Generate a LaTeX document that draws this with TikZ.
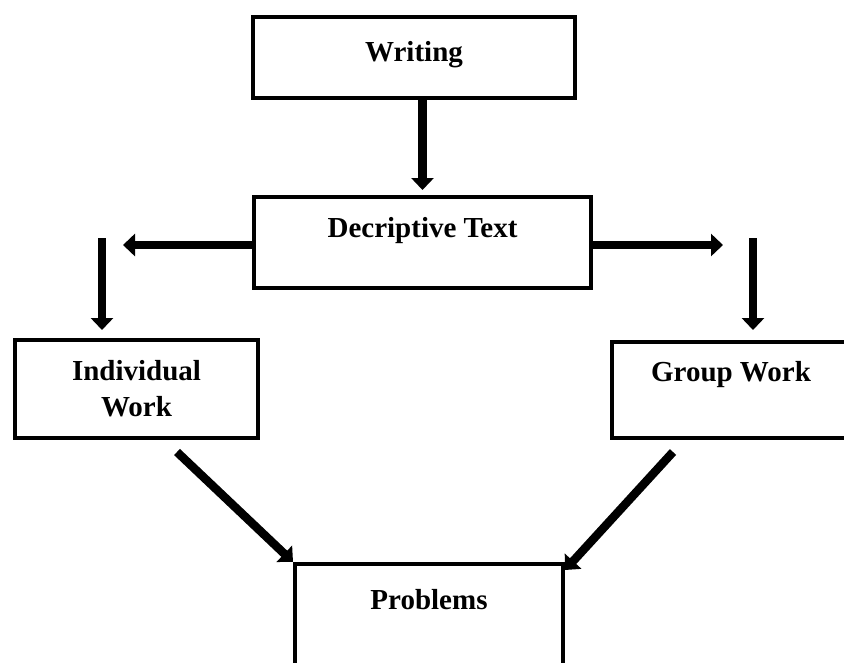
\documentclass[tikz,border=0pt]{standalone}
\usepackage{fontspec}
\setmainfont{Liberation Serif}
\usetikzlibrary{arrows.meta}
\tikzset{
    box/.style={draw, line width=4pt, font=\fontsize{29}{36}\selectfont\bfseries, inner sep=0pt},
    textlift/.style={text height=20pt, text depth=#1},
    flow/.style={draw, line width=8.5pt, -{Triangle[width=22pt,length=12pt]}}
}
\begin{document}
\begin{tikzpicture}[x=1pt,y=-1pt]
\clip (0,0) rectangle (844,662);

% Boxes
\node[box, textlift=12pt, minimum width=322pt, minimum height=81pt] (writing) at (414,57.5) {Writing};
\node[box, textlift=30pt, minimum width=337pt, minimum height=91pt] (desc) at (422.5,242.5) {Decriptive Text};
\node[box, align=center, minimum width=243pt, minimum height=98pt] (indiv) at (136.5,389) {Individual\\Work};
\node[box, textlift=37pt, minimum width=238pt, minimum height=96pt] (group) at (731,390) {Group Work};
\node[box, textlift=65pt, minimum width=268pt, minimum height=136pt] (probs) at (429,632) {Problems};

% Free ends of the arrows
\coordinate (ltip) at (123,245);
\coordinate (rtip) at (723,245);
\coordinate (ldrop) at (102,238);
\coordinate (rdrop) at (753,238);
\coordinate (lslant) at (177,452);
\coordinate (rslant) at (673,452);

% Arrows
\draw[flow, shorten >=5pt] (writing.south -| desc.north) -- (desc.north);
\draw[flow] (desc.west |- ltip) -- (ltip);
\draw[flow] (desc.east |- rtip) -- (rtip);
\draw[flow, shorten >=8pt] (ldrop) -- (ldrop |- indiv.north);
\draw[flow, shorten >=10pt] (rdrop) -- (rdrop |- group.north);
\draw[flow] (lslant) -- (probs.north west);
\draw[flow] (rslant) -- ([yshift=-8pt]probs.north east);
\end{tikzpicture}
\end{document}
